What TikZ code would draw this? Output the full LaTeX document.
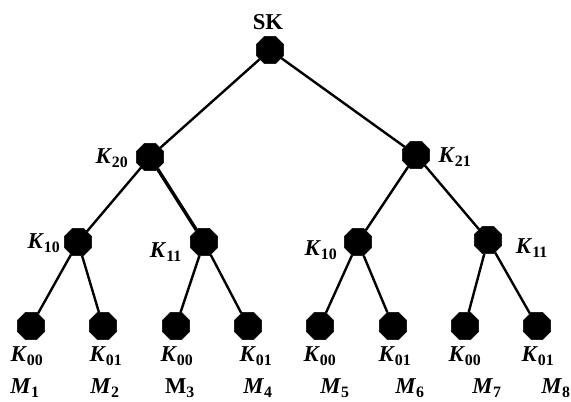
\documentclass[tikz,border=0pt]{standalone}
\usepackage{fontspec}
\setmainfont{Liberation Serif}
\usepackage{tikz}
\usetikzlibrary{positioning,shapes.geometric}
\tikzset{
  % --- key nodes -------------------------------------------------------------
  knode/.style={regular polygon,regular polygon sides=8,draw=black,fill=black,
                inner sep=0pt,minimum size=22pt},
  klab/.style={inner sep=1pt,font=\fontsize{17}{19}\selectfont\bfseries},
  mlab/.style={klab},
  % --- tree edges ------------------------------------------------------------
  edge/.style={black,line width=1.8pt},
}
\newcommand{\kk}[1]{\textit{K}\textsubscript{#1}}
\newcommand{\mm}[1]{\textit{M}\textsubscript{#1}}

\begin{document}
\begin{tikzpicture}[x=0.75pt, y=-0.75pt]
  \useasboundingbox (0,0) rectangle (571,402);

  % root and upper levels
  \node[knode] (sk)  at (270,50)  {};
  \node[knode] (k20) at (150,157) {};
  \node[knode] (k21) at (416,155) {};
  \node[knode] (k10a) at (78,242)  {};
  \node[knode] (k11a) at (204,242) {};
  \node[knode] (k10b) at (358,242) {};
  \node[knode] (k11b) at (488,240) {};

  % leaves
  \node[knode] (l1) at (31,326)  {};
  \node[knode] (l2) at (103,326) {};
  \node[knode] (l3) at (176,326) {};
  \node[knode] (l4) at (248,326) {};
  \node[knode] (l5) at (320,326) {};
  \node[knode] (l6) at (393,326) {};
  \node[knode] (l7) at (465,326) {};
  \node[knode] (l8) at (537,326) {};

  \node[klab] (tsk)  at (268,22)  {SK};
  \node[klab] (t20)  at (112,158) {\kk{20}};
  \node[klab] (t21)  at (455,157) {\kk{21}};
  \node[klab] (t10a) at (44,243)  {\kk{10}};
  \node[klab] (t11a) at (166,252) {\kk{11}};
  \node[klab] (t10b) at (321,250) {\kk{10}};
  \node[klab] (t11b) at (532,248) {\kk{11}};

  \node[klab] (t1) at (27,356)  {\kk{00}};
  \node[klab] (t2) at (106,356) {\kk{01}};
  \node[klab] (t3) at (177,356) {\kk{00}};
  \node[klab] (t4) at (256,356) {\kk{01}};
  \node[klab] (t5) at (320,356) {\kk{00}};
  \node[klab] (t6) at (395,356) {\kk{01}};
  \node[klab] (t7) at (465,356) {\kk{00}};
  \node[klab] (t8) at (538,356) {\kk{01}};

  \node[mlab] (m1) at (25,388)  {\mm{1}};
  \node[mlab] (m2) at (105,388) {\mm{2}};
  \node[mlab] (m3) at (180,388) {M\textsubscript{3}};
  \node[mlab] (m4) at (258,388) {\mm{4}};
  \node[mlab] (m5) at (335,388) {\mm{5}};
  \node[mlab] (m6) at (410,388) {\mm{6}};
  \node[mlab] (m7) at (487,388) {\mm{7}};
  \node[mlab] (m8) at (556,388) {\mm{8}};

  \draw[edge] (sk) -- (k20);
  \draw[edge] (sk) -- (k21);
  \draw[edge] (k20) -- (k10a);
  \draw[edge,line width=2.6pt] (k20) -- (k11a);
  \draw[edge] (k21) -- (k10b);
  \draw[edge] (k21) -- (k11b);
  \draw[edge] (k10a) -- (l1);
  \draw[edge] (k10a) -- (l2);
  \draw[edge] (k11a) -- (l3);
  \draw[edge] (k11a) -- (l4);
  \draw[edge] (k10b) -- (l5);
  \draw[edge] (k10b) -- (l6);
  \draw[edge] (k11b) -- (l7);
  \draw[edge] (k11b) -- (l8);
\end{tikzpicture}
\end{document}
